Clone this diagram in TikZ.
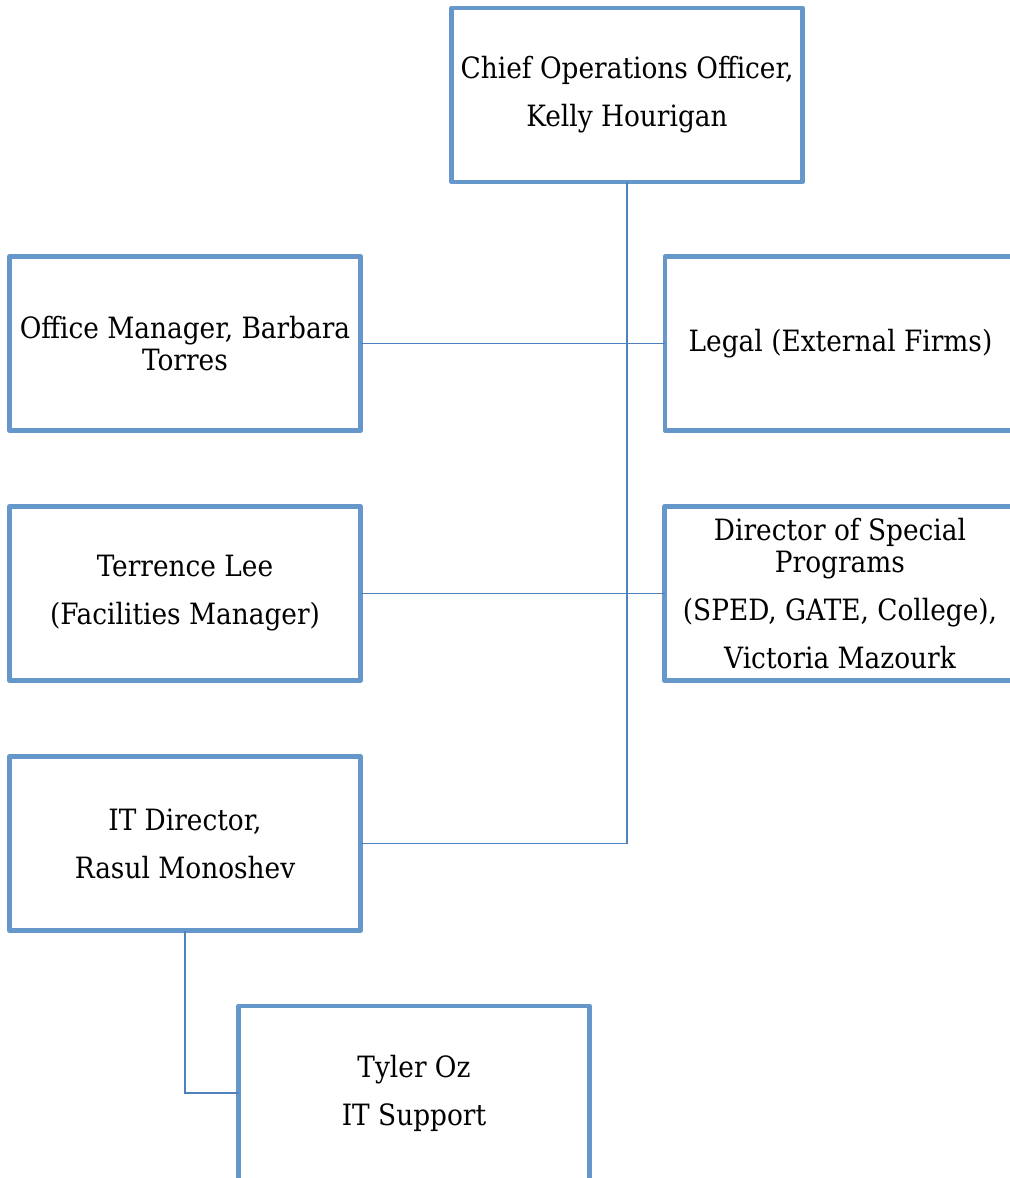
\documentclass[tikz,border=0pt]{standalone}
\usepackage{fontspec}
\setmainfont{DejaVu Serif Condensed}
\definecolor{boxblue}{RGB}{101,151,203}
\definecolor{lineblue}{RGB}{79,129,189}
\begin{document}
\begin{tikzpicture}[x=0.75pt,y=-0.75pt,
  orgbox/.style={draw=boxblue, fill=white, line width=3.3pt, line join=round,
    minimum width=263.25pt, minimum height=130.5pt, inner sep=0pt, outer sep=0pt,
    anchor=north west, align=center, font=\fontsize{22}{24}\selectfont},
  link/.style={draw=lineblue, line width=1.3pt}]
\useasboundingbox (0,0) rectangle (1010,1178);
\node[orgbox] (coo) at (451.5,8) {Chief Operations Officer,\\[12pt]Kelly Hourigan};
\node[orgbox] (om) at (9.5,256.5) {Office Manager, Barbara\\Torres};
\node[orgbox] (legal) at (665,256.5) {Legal (External Firms)};
\node[orgbox] (tl) at (9.5,506.5) {Terrence Lee\\[12pt](Facilities Manager)};
\node[orgbox] (dsp) at (664.5,506.5) {Director of Special\\Programs\\[12pt](SPED, GATE, College),\\[12pt]Victoria Mazourk};
\node[orgbox] (it) at (9.5,756.5) {IT Director,\\[12pt]Rasul Monoshev};
\node[orgbox] (ty) at (238.5,1006) {Tyler Oz\\[12pt]IT Support};
\draw[link] (om.east) -- (legal.west);
\draw[link] (tl.east) -- (dsp.west);
\draw[link] (coo.south) |- (it.east);
\draw[link] (it.south) |- (ty.west);
\end{tikzpicture}
\end{document}
